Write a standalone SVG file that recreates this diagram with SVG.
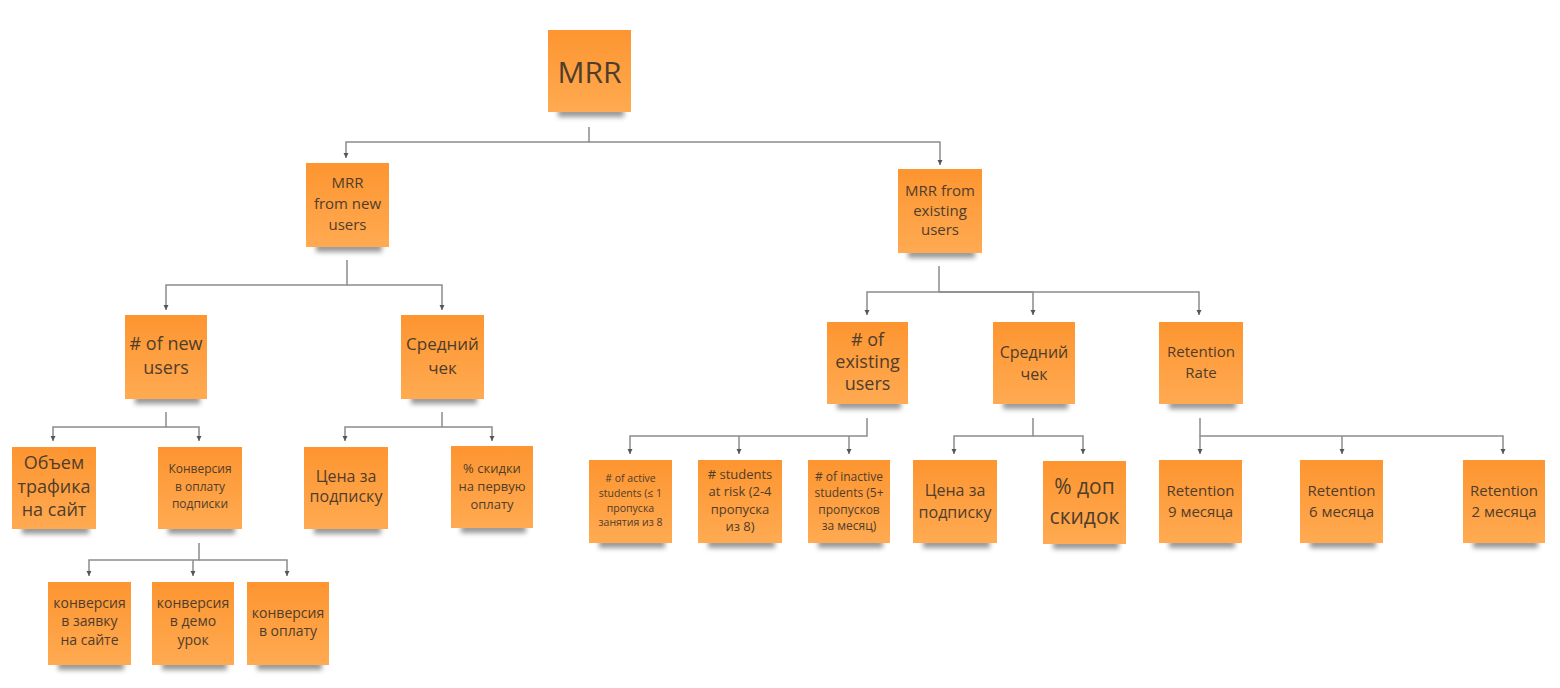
<svg xmlns="http://www.w3.org/2000/svg" width="1560" height="688" viewBox="0 0 1560 688">
<style>
.note{fill:url(#og);}
.sh{fill:#333333;opacity:0.5;filter:url(#blur);}
text{font-family:"Open Sans","Noto Sans","DejaVu Sans",sans-serif;fill:#4f3d2b;text-anchor:middle;}
.con path{fill:none;stroke:#8c8c8c;stroke-width:1.5;marker-end:url(#ah);}
</style>
<defs>
<linearGradient id="og" x1="0" y1="0" x2="0" y2="1">
<stop offset="0" stop-color="#fd9530"/>
<stop offset="1" stop-color="#ffaa52"/>
</linearGradient>
<filter id="blur" x="-20%" y="-100%" width="140%" height="300%">
<feGaussianBlur stdDeviation="2.5"/>
</filter>
<marker id="ah" markerUnits="userSpaceOnUse" markerWidth="6" markerHeight="6" refX="5" refY="2.5" orient="auto">
<path d="M0,0 L5,2.5 L0,5 z" fill="#555"/>
</marker>
</defs>
<rect width="1560" height="688" fill="#ffffff"/>

<g class="con" id="connectors">
<path d="M589 127 V142 H346 V158"/>
<path d="M589 142 H940 V165"/>
<path d="M347 260 V285 H166 V310"/>
<path d="M347 285 H442 V310"/>
<path d="M939 266 V292 H867 V315"/>
<path d="M939 292 H1033 V315"/>
<path d="M939 292 H1199 V315"/>
<path d="M166 412 V427 H53 V441"/>
<path d="M166 427 H199 V441"/>
<path d="M442 412 V427 H345 V441"/>
<path d="M442 427 H492 V441"/>
<path d="M199 543 V560 H89 V576"/>
<path d="M199 560 H287 V576"/>
<path d="M193 560 V576"/>
<path d="M867 418 V436 H630 V454"/>
<path d="M739 436 V454"/>
<path d="M849 436 V454"/>
<path d="M1033 418 V436 H954 V454"/>
<path d="M1033 436 H1083 V454"/>
<path d="M1200 418 V436 H1503 V454"/>
<path d="M1342 436 V454"/>
<path d="M1200 436 V454"/>
</g>

<g id="n-mrr">
<rect class="sh" x="558" y="108" width="66" height="9"/>
<rect class="note" x="548" y="30" width="83" height="82"/>
<text x="589.5" y="83" font-size="30">MRR</text>
</g>

<g id="n-mrr-new">
<rect class="sh" x="316" y="243" width="66" height="9"/>
<rect class="note" x="306" y="163" width="83" height="84"/>
<text font-size="15"><tspan x="347.5" y="188">MRR</tspan><tspan x="347.5" y="209">from new</tspan><tspan x="347.5" y="230">users</tspan></text>
</g>

<g id="n-mrr-existing">
<rect class="sh" x="908" y="249" width="67" height="9"/>
<rect class="note" x="898" y="169" width="84" height="84"/>
<text font-size="15"><tspan x="940" y="196">MRR from</tspan><tspan x="940" y="216">existing</tspan><tspan x="940" y="235">users</tspan></text>
</g>

<g id="n-new-users">
<rect class="sh" x="135" y="395" width="65" height="9"/>
<rect class="note" x="125" y="315" width="82" height="84"/>
<text font-size="18"><tspan x="166" y="350"># of new</tspan><tspan x="166" y="374">users</tspan></text>
</g>

<g id="n-check-1">
<rect class="sh" x="411" y="395" width="66" height="9"/>
<rect class="note" x="401" y="315" width="83" height="84"/>
<text font-size="17"><tspan x="442.5" y="350">Средний</tspan><tspan x="442.5" y="374">чек</tspan></text>
</g>

<g id="n-existing-users">
<rect class="sh" x="837" y="400" width="64" height="9"/>
<rect class="note" x="827" y="322" width="81" height="82"/>
<text font-size="18"><tspan x="867.5" y="346"># of</tspan><tspan x="867.5" y="368">existing</tspan><tspan x="867.5" y="390">users</tspan></text>
</g>

<g id="n-check-2">
<rect class="sh" x="1003" y="400" width="65" height="9"/>
<rect class="note" x="993" y="322" width="82" height="82"/>
<text font-size="16"><tspan x="1034" y="358">Средний</tspan><tspan x="1034" y="380">чек</tspan></text>
</g>

<g id="n-retention-rate">
<rect class="sh" x="1169" y="400" width="67" height="9"/>
<rect class="note" x="1159" y="322" width="84" height="82"/>
<text font-size="15"><tspan x="1201" y="357">Retention</tspan><tspan x="1201" y="378">Rate</tspan></text>
</g>

<g id="n-traffic">
<rect class="sh" x="22" y="525" width="67" height="9"/>
<rect class="note" x="12" y="447" width="84" height="82"/>
<text font-size="18"><tspan x="54" y="469">Объем</tspan><tspan x="54" y="493">трафика</tspan><tspan x="54" y="516">на сайт</tspan></text>
</g>

<g id="n-conversion">
<rect class="sh" x="168" y="525" width="67" height="9"/>
<rect class="note" x="158" y="447" width="84" height="82"/>
<text font-size="12"><tspan x="200" y="473">Конверсия</tspan><tspan x="200" y="491">в оплату</tspan><tspan x="200" y="508">подписки</tspan></text>
</g>

<g id="n-price-1">
<rect class="sh" x="314" y="525" width="67" height="9"/>
<rect class="note" x="304" y="447" width="84" height="82"/>
<text font-size="16"><tspan x="346" y="482">Цена за</tspan><tspan x="346" y="502">подписку</tspan></text>
</g>

<g id="n-discount-1">
<rect class="sh" x="461" y="524" width="65" height="9"/>
<rect class="note" x="451" y="446" width="82" height="82"/>
<text font-size="13"><tspan x="492" y="473">% скидки</tspan><tspan x="492" y="491">на первую</tspan><tspan x="492" y="509">оплату</tspan></text>
</g>

<g id="n-conv-lead">
<rect class="sh" x="58" y="661" width="66" height="9"/>
<rect class="note" x="48" y="582" width="83" height="83"/>
<text font-size="14"><tspan x="89.5" y="608">конверсия</tspan><tspan x="89.5" y="626">в заявку</tspan><tspan x="89.5" y="645">на сайте</tspan></text>
</g>

<g id="n-conv-demo">
<rect class="sh" x="162" y="661" width="65" height="9"/>
<rect class="note" x="152" y="582" width="82" height="83"/>
<text font-size="14"><tspan x="193" y="608">конверсия</tspan><tspan x="193" y="626">в демо</tspan><tspan x="193" y="645">урок</tspan></text>
</g>

<g id="n-conv-pay">
<rect class="sh" x="257" y="661" width="65" height="9"/>
<rect class="note" x="247" y="582" width="82" height="83"/>
<text font-size="14"><tspan x="288" y="618">конверсия</tspan><tspan x="288" y="636">в оплату</tspan></text>
</g>

<g id="n-active">
<rect class="sh" x="599" y="539" width="66" height="9"/>
<rect class="note" x="589" y="460" width="83" height="83"/>
<text font-size="10.5"><tspan x="630.5" y="482"># of active</tspan><tspan x="630.5" y="497">students (≤ 1</tspan><tspan x="630.5" y="512">пропуска</tspan><tspan x="630.5" y="526">занятия из 8</tspan></text>
</g>

<g id="n-risk">
<rect class="sh" x="708" y="539" width="67" height="9"/>
<rect class="note" x="698" y="460" width="84" height="83"/>
<text font-size="13"><tspan x="740" y="479"># students</tspan><tspan x="740" y="496">at risk (2-4</tspan><tspan x="740" y="514">пропуска</tspan><tspan x="740" y="531">из 8)</tspan></text>
</g>

<g id="n-inactive">
<rect class="sh" x="818" y="539" width="65" height="9"/>
<rect class="note" x="808" y="460" width="82" height="83"/>
<text font-size="12"><tspan x="849" y="481"># of inactive</tspan><tspan x="849" y="497">students (5+</tspan><tspan x="849" y="514">пропусков</tspan><tspan x="849" y="530">за месяц)</tspan></text>
</g>

<g id="n-price-2">
<rect class="sh" x="923" y="539" width="67" height="9"/>
<rect class="note" x="913" y="460" width="84" height="83"/>
<text font-size="16"><tspan x="955" y="496">Цена за</tspan><tspan x="955" y="518">подписку</tspan></text>
</g>

<g id="n-discount-2">
<rect class="sh" x="1053" y="540" width="66" height="9"/>
<rect class="note" x="1043" y="461" width="83" height="83"/>
<text font-size="21"><tspan x="1084.5" y="494">% доп</tspan><tspan x="1084.5" y="524">скидок</tspan></text>
</g>

<g id="n-ret-9">
<rect class="sh" x="1169" y="539" width="66" height="9"/>
<rect class="note" x="1159" y="460" width="83" height="83"/>
<text font-size="15"><tspan x="1200.5" y="496">Retention</tspan><tspan x="1200.5" y="517">9 месяца</tspan></text>
</g>

<g id="n-ret-6">
<rect class="sh" x="1310" y="539" width="66" height="9"/>
<rect class="note" x="1300" y="460" width="83" height="83"/>
<text font-size="15"><tspan x="1341.5" y="496">Retention</tspan><tspan x="1341.5" y="517">6 месяца</tspan></text>
</g>

<g id="n-ret-2">
<rect class="sh" x="1473" y="539" width="65" height="9"/>
<rect class="note" x="1463" y="460" width="82" height="83"/>
<text font-size="15"><tspan x="1504" y="496">Retention</tspan><tspan x="1504" y="517">2 месяца</tspan></text>
</g>
</svg>
